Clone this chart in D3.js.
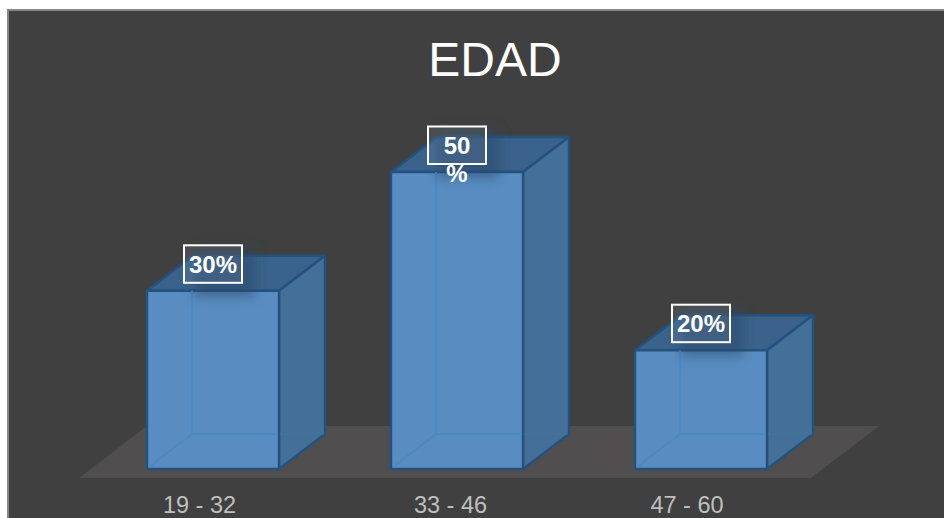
<!DOCTYPE html>
<html><head><meta charset="utf-8">
<style>html,body{margin:0;padding:0;background:#fff;overflow:hidden}svg{display:block}text{font-family:"Liberation Sans",Arial,sans-serif}</style>
<script src="https://cdn.jsdelivr.net/npm/d3@7"></script>
</head><body><svg id="c" width="944" height="518"></svg>
<script>
const title = "EDAD";
const categories = ["19 - 32", "33 - 46", "47 - 60"];
const values = [30, 50, 20];
const labelLines = [["30%"], ["50", "%"], ["20%"]];

const svg = d3.select("#c");
const x = d3.scaleBand().domain(categories).range([91, 823]).paddingInner(112/244).paddingOuter(56/244);
const y = d3.scaleLinear().domain([0, 50]).range([469, 172]);
const dx = 46, dy = -35;
const line = d3.line();

// panel
svg.append("rect").attr("x", 8).attr("y", 10).attr("width", 940).attr("height", 512)
  .attr("fill", "#404040").attr("stroke", "#868686").attr("stroke-width", 2);

const defs = svg.append("defs");
defs.append("filter").attr("id", "blur").attr("x", "-50%").attr("y", "-50%").attr("width", "200%").attr("height", "200%")
  .append("feGaussianBlur").attr("stdDeviation", 6);

// floor
const fx0 = x(categories[0]) - 68, fx1 = x(categories[2]) + x.bandwidth() + 44;
const fy0 = y(0) + 9, fy1 = fy0 - 52;
svg.append("path").attr("d", line([[fx0, fy0], [fx1, fy0], [fx1 + 68, fy1], [fx0 + 68, fy1]]) + "Z").attr("fill", "#504e4e");

const g = svg.append("g").selectAll("g").data(categories).join("g");
const stroke = "#24527f";

g.each(function (c, i) {
  const s = d3.select(this), l = x(c), r = l + x.bandwidth(), b = y(0), t = y(values[i]);
  // back / hidden faces
  s.append("path").attr("d", line([[l + dx, t + dy], [r + dx, t + dy], [r + dx, b + dy], [l + dx, b + dy]]) + "Z")
    .attr("fill", "#4a79a8");
  // top
  s.append("path").attr("d", line([[l, t], [l + dx, t + dy], [r + dx, t + dy], [r, t]]) + "Z")
    .attr("fill", "#3a628a").attr("stroke", stroke).attr("stroke-width", 2.4).attr("stroke-linejoin", "round");
  // side
  s.append("path").attr("d", line([[r, t], [r + dx, t + dy], [r + dx, b + dy], [r, b]]) + "Z")
    .attr("fill", "#436f99").attr("stroke", stroke).attr("stroke-width", 2.4).attr("stroke-linejoin", "round");
  // front
  s.append("path").attr("d", line([[l, t], [r, t], [r, b], [l, b]]) + "Z")
    .attr("fill", "#598dc1").attr("stroke", stroke).attr("stroke-width", 2.4).attr("stroke-linejoin", "round");
  // faint hidden edges seen through the box
  s.append("path").attr("d", line([[l + 45, t], [l + 45, b + dy], [r - 1, b + dy]]) + " " + line([[l + 2, b - 2], [l + 45, b + dy]]))
    .attr("fill", "none").attr("stroke", "#4d88c0").attr("stroke-width", 1.8);
  s.append("path").attr("d", line([[r + 1, b + dy], [r + dx - 1, b + dy]]))
    .attr("fill", "none").attr("stroke", "#4674a0").attr("stroke-width", 1.2);
  // soft shadow under label
  s.append("rect").attr("x", l + 46).attr("y", t - 42).attr("width", 62).attr("height", 48)
    .attr("fill", "#2a4a6c").attr("opacity", 0.55).attr("filter", "url(#blur)");
  // label box
  const cx = l + x.bandwidth() / 2;
  s.append("rect").attr("x", cx - 29).attr("y", t - 45.5).attr("width", 58).attr("height", 37.5)
    .attr("fill", "#ffffff").attr("fill-opacity", 0.07).attr("stroke", "#ffffff").attr("stroke-width", 2);
  const tx = s.append("text").attr("text-anchor", "middle").attr("fill", "#ffffff")
    .attr("font-size", 24).attr("font-weight", "bold");
  labelLines[i].forEach((str, k) => {
    tx.append("tspan").attr("x", cx).attr("y", t - 18 + k * 28).text(str);
  });
});

// category axis
const axis = d3.axisBottom(x).tickSize(0).tickPadding(0);
const ax = svg.append("g").attr("transform", "translate(0,495)").call(axis);
ax.select(".domain").remove();
ax.selectAll("text").attr("font-size", 23.5).attr("fill", "#bfbfbf").attr("dy", 0).attr("y", 18)
  .style("font-family", '"Liberation Sans",Arial,sans-serif');
ax.selectAll(".tick").attr("transform", (c, i) => `translate(${[199.5, 450.5, 687][i]},0)`);

svg.append("text").attr("x", 495).attr("y", 76).attr("text-anchor", "middle").attr("fill", "#ffffff")
  .attr("font-size", 48).text(title);
</script></body></html>
